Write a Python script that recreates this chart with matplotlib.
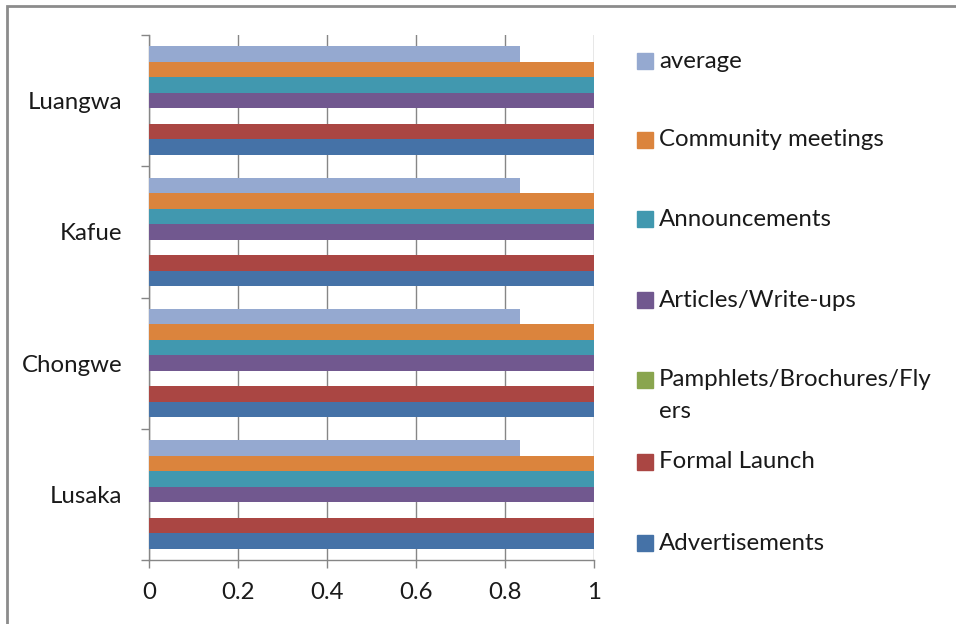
import matplotlib.pyplot as plt
import matplotlib.patches as mpatches
import numpy as np

DISTRICTS = ["Lusaka", "Chongwe", "Kafue", "Luangwa"]
SERIES = ["Advertisements", "Formal Launch", "Pamphlets/Brochures/Fly\ners",
          "Articles/Write-ups", "Announcements", "Community meetings", "average"]
VALUES = [
    [1, 1, 1, 1],              # Advertisements
    [1, 1, 1, 1],              # Formal Launch
    [0, 0, 0, 0],              # Pamphlets/Brochures/Flyers
    [1, 1, 1, 1],              # Articles/Write-ups
    [1, 1, 1, 1],              # Announcements
    [1, 1, 1, 1],              # Community meetings
    [0.833, 0.833, 0.833, 0.833],  # average
]
COLORS = ["#4572A7", "#AA4643", "#89A54E", "#71588F", "#4198AF", "#DB843D", "#95A9D0"]
X_TICKS = [0, 0.2, 0.4, 0.6, 0.8, 1]

plt.rcParams["font.family"] = ["Lato", "DejaVu Sans"]
FS = 17.3
TXT = "#1a1a1a"
GRAY = "#868686"

fig = plt.figure(figsize=(9.56, 6.24), dpi=100)
ax = fig.add_axes([149 / 956, 64 / 624, 445 / 956, 525 / 624])

# Outer chart border
fig.patches.append(mpatches.Rectangle((7 / 956, -0.05), 1.2, 0.05 + 618 / 624,
                                      transform=fig.transFigure, fill=False,
                                      edgecolor="#8c8c8c", linewidth=2))

y = np.arange(len(DISTRICTS))
h = 0.118
for i, (name, vals, col) in enumerate(zip(SERIES, VALUES, COLORS)):
    ax.barh(y + (i - 3) * h, vals, height=h, color=col, linewidth=0, zorder=3)

ax.set_xlim(0, 1)
ax.set_ylim(-0.5, 3.5)
ax.set_xticks(X_TICKS)
ax.set_xticklabels(["0", "0.2", "0.4", "0.6", "0.8", "1"], fontsize=FS, color=TXT)
ax.set_yticks(y)
ax.set_yticklabels(DISTRICTS, fontsize=FS, color=TXT)
ax.set_yticks(np.arange(-0.5, 4, 1), minor=True)
ax.tick_params(axis="y", which="major", length=0, pad=19)
ax.tick_params(axis="y", which="minor", length=6, width=1, color=GRAY, direction="out")
ax.tick_params(axis="x", length=6, width=1, color=GRAY, direction="out", pad=10)
ax.grid(axis="x", color=GRAY, linewidth=1, zorder=0)
for s in ["top", "right"]:
    ax.spines[s].set_visible(False)
for s in ["left", "bottom"]:
    ax.spines[s].set_color(GRAY)
    ax.spines[s].set_linewidth(1)

# Legend, top to bottom
leg_y = [61, 140, 219, 300, 380, 462, 543]
for k, i in enumerate(range(len(SERIES) - 1, -1, -1)):
    yp = 1 - leg_y[k] / 624
    fig.patches.append(mpatches.Rectangle((637 / 956, yp - 8 / 624), 16 / 956, 16 / 624,
                                          transform=fig.transFigure, color=COLORS[i]))
    lines = SERIES[i].split("\n")
    for j, line in enumerate(lines):
        fig.text(659 / 956, yp - j * 32 / 624, line, fontsize=FS, color=TXT,
                 va="center", ha="left")

fig.savefig("out.png", dpi=100)
